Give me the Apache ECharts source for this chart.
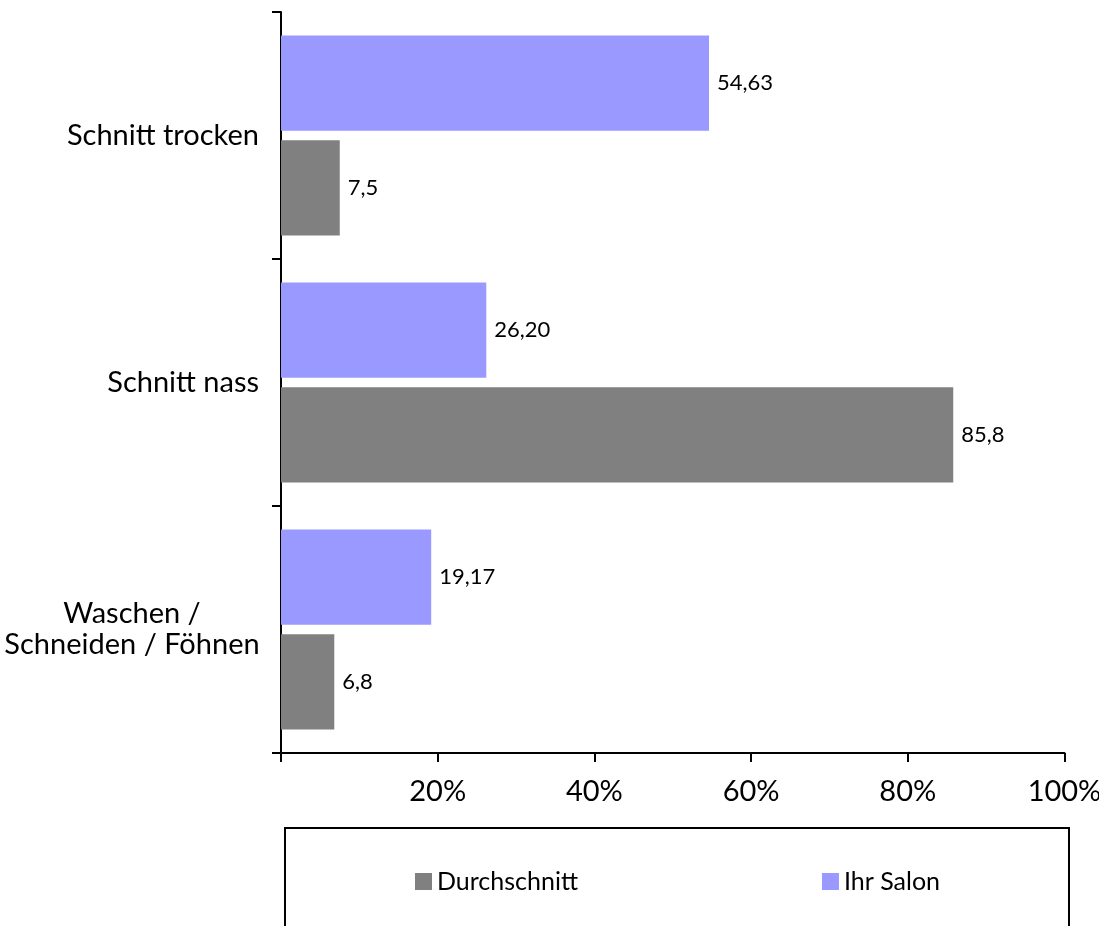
<!DOCTYPE html>
<html>
<head>
<meta charset="utf-8">
<title>Schnitt-Anteile</title>
<script src="https://cdn.jsdelivr.net/npm/echarts@6/dist/echarts.min.js"></script>
<style>
  html, body { margin: 0; padding: 0; background: #fff; }
  #chart { width: 1099px; height: 926px; }
</style>
</head>
<body>
<div id="chart"></div>
<script>
// Leistungsarten, von oben nach unten
const categories = ['Schnitt trocken', 'Schnitt nass', 'Waschen / Schneiden / Föhnen'];
// Anteile in Prozent
const ihrSalon = [54.63, 26.20, 19.17];
const durchschnitt = [7.5, 85.8, 6.8];
// Beschriftung der Wertachse
const xTicks = [20, 40, 60, 80, 100];

const FONT = 'Lato';
const fmt = (v, d) => v.toFixed(d).replace('.', ',');

const chart = echarts.init(document.getElementById('chart'), null, { renderer: 'canvas' });

// zweizeilige Beschriftung, Zeilen zueinander zentriert
const lineStyle = { fontSize: 29, fontFamily: FONT, color: '#000', lineHeight: 31, width: 254, align: 'center' };

chart.setOption({
  animation: false,
  backgroundColor: '#ffffff',
  textStyle: { fontFamily: FONT, color: '#000' },
  grid: { left: 281, right: 34.5, top: 12, bottom: 173, containLabel: false, outerBoundsMode: 'none' },
  xAxis: {
    type: 'value',
    min: 0,
    max: 100,
    interval: 20,
    axisLine: { show: true, lineStyle: { color: '#000', width: 2 } },
    axisTick: { show: true, length: 9, lineStyle: { color: '#000', width: 2 } },
    splitLine: { show: false },
    axisLabel: {
      margin: 24,
      fontSize: 29,
      fontFamily: FONT,
      color: '#000',
      formatter: v => (xTicks.indexOf(v) >= 0 ? v + '%' : '')
    }
  },
  yAxis: {
    type: 'category',
    inverse: true,
    data: categories,
    axisLine: { show: true, lineStyle: { color: '#000', width: 2 } },
    axisTick: { show: true, length: 9, lineStyle: { color: '#000', width: 2 } },
    axisLabel: {
      margin: 22,
      fontSize: 29,
      fontFamily: FONT,
      color: '#000',
      lineHeight: 31,
      formatter: v => {
        if (v === 'Waschen / Schneiden / Föhnen') {
          return '{c|Waschen /}\n{c|Schneiden / Föhnen}';
        }
        return v;
      },
      rich: { c: lineStyle }
    }
  },
  legend: {
    left: 410,
    top: 864,
    itemWidth: 17,
    itemHeight: 17,
    itemGap: 244,
    icon: 'rect',
    data: ['Durchschnitt', 'Ihr Salon'],
    textStyle: { fontSize: 25, fontFamily: FONT, color: '#000' }
  },
  graphic: [{
    type: 'rect',
    silent: true,
    shape: { x: 285, y: 828, width: 784, height: 140 },
    style: { fill: 'none', stroke: '#000', lineWidth: 2 }
  }],
  series: [
    {
      name: 'Ihr Salon',
      type: 'bar',
      data: ihrSalon,
      barCategoryGap: '19%',
      barGap: '10%',
      itemStyle: { color: '#9999ff' },
      label: {
        show: true,
        position: 'right',
        distance: 8,
        fontSize: 22,
        fontFamily: FONT,
        color: '#000',
        formatter: p => fmt(p.value, 2)
      }
    },
    {
      name: 'Durchschnitt',
      type: 'bar',
      data: durchschnitt,
      barCategoryGap: '19%',
      barGap: '10%',
      itemStyle: { color: '#808080' },
      label: {
        show: true,
        position: 'right',
        distance: 8,
        fontSize: 22,
        fontFamily: FONT,
        color: '#000',
        formatter: p => fmt(p.value, 1)
      }
    }
  ]
});
</script>
</body>
</html>
